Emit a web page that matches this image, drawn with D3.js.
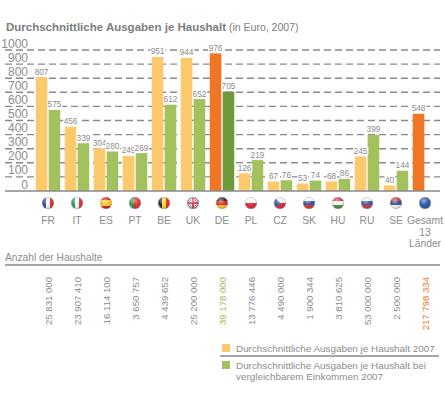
<!DOCTYPE html>
<html>
<head>
<meta charset="utf-8">
<script src="https://cdn.jsdelivr.net/npm/d3@7"></script>
<style>
  body { margin: 0; background: #fff; }
  text { font-family: "Liberation Sans", Arial, sans-serif; fill: #8c8c8c; }
</style>
</head>
<body>
<div id="chart"></div>
<script>
// data
var countries = ["FR", "IT", "ES", "PT", "BE", "UK", "DE", "PL", "CZ", "SK", "HU", "RU", "SE", "Gesamt"];
var spend = [807, 456, 304, 249, 951, 944, 976, 126, 67, 53, 68, 245, 40, 548];
var spendComparable = [575, 339, 280, 269, 612, 652, 705, 219, 76, 74, 86, 399, 144, null];
var households = ["25 831 000", "23 907 410", "16 114 100", "3 650 757", "4 439 652", "25 200 000",
                  "39 178 000", "13 776 446", "4 490 000", "1 900 344", "3 810 625", "53 000 000",
                  "2 500 000", "217 798 334"];
var yTicks = [0, 100, 200, 300, 400, 500, 600, 700, 800, 900, 1000];
var legendLabels = [["Durchschnittliche Ausgaben je Haushalt 2007"],
                    ["Durchschnittliche Ausgaben je Haushalt bei", "vergleichbarem Einkommen 2007"]];

// flag stripes (v = vertical, h = horizontal)
var flags = {
  FR: {dir: "v", c: ["#22408f", "#f4f4f4", "#e2261d"]},
  IT: {dir: "v", c: ["#0c9a48", "#f4f4f4", "#d12b35"]},
  ES: {dir: "h", c: ["#c8161d", "#f6c21c", "#f6c21c", "#c8161d"]},
  PT: {dir: "v", c: ["#1d8a3a", "#1d8a3a", "#d8231f", "#d8231f", "#d8231f"]},
  BE: {dir: "v", c: ["#1a1a1a", "#f7d219", "#e2261d"]},
  UK: {dir: "uk", c: ["#24357a", "#ffffff", "#cf1f2e"]},
  DE: {dir: "h", c: ["#1a1a1a", "#dd1f26", "#f6c21c"]},
  PL: {dir: "h", c: ["#f4f4f4", "#dc1f33"]},
  CZ: {dir: "cz", c: ["#f4f4f4", "#d6232c", "#1d4f9a"]},
  SK: {dir: "h", c: ["#f4f4f4", "#1f4fa0", "#e2261d"]},
  HU: {dir: "h", c: ["#d1283a", "#f4f4f4", "#3f8a3c"]},
  RU: {dir: "h", c: ["#f4f4f4", "#2a4fa5", "#d62a2c"]},
  SE: {dir: "h", c: ["#c8283a", "#2c4a8d", "#f4f4f4"]},
  Gesamt: {dir: "h", c: ["#1f4fa0"]}
};

var w = 445, h = 400;
var yellow = "#fcc96c", green = "#a3c15c", orange = "#f07526", darkGreen = "#6e9a3c";

var svg = d3.select("#chart").append("svg")
    .attr("width", w).attr("height", h)
    .style("background", "#fff");

var x = d3.scaleBand().domain(countries).range([33.5, 439.5]).paddingInner(0);
var xSub = d3.scaleBand().domain(["a", "b"]).range([2.25, 26.75]).paddingInner(0.1);
var y = d3.scaleLinear().domain([0, 1000]).range([191, 50]);
var cx = function(d) { return x(d) + x.bandwidth() / 2; };

// title
var title = svg.append("text").attr("x", 6).attr("y", 31)
    .style("font-size", "11.5px").style("fill", "#7d7d7d");
title.append("tspan").style("font-weight", "bold").text("Durchschnittliche Ausgaben je Haushalt");
title.append("tspan").style("font-size", "10.5px").text(" (in Euro, 2007)");

// grid
svg.append("g").selectAll("line")
    .data(yTicks.filter(function(d) { return d > 0; }))
    .join("line")
    .attr("x1", 5).attr("x2", 440)
    .attr("y1", function(d) { return y(d); }).attr("y2", function(d) { return y(d); })
    .attr("stroke", "#8a8a8a").attr("stroke-width", 1.4)
    .attr("stroke-dasharray", "7,4");

svg.append("g").selectAll("text")
    .data(yTicks)
    .join("text")
    .attr("x", 28).attr("y", function(d) { return y(d) - 2.5; })
    .attr("text-anchor", "end")
    .style("font-size", "12px")
    .text(function(d) { return d; });

// bars
var groups = svg.append("g").selectAll("g")
    .data(countries)
    .join("g")
    .attr("transform", function(d) { return "translate(" + x(d) + ",0)"; });

function barColor(c, s) {
  if (c === "DE") return s === "a" ? orange : darkGreen;
  if (c === "Gesamt") return orange;
  return s === "a" ? yellow : green;
}

groups.each(function(c, i) {
  var g = d3.select(this);
  var vals = [["a", spend[i]], ["b", spendComparable[i]]].filter(function(v) { return v[1] != null; });
  vals.forEach(function(v) {
    g.append("rect")
      .attr("x", xSub(v[0])).attr("width", xSub.bandwidth())
      .attr("y", y(v[1])).attr("height", y(0) - y(v[1]))
      .attr("fill", barColor(c, v[0]));
  });
  vals.forEach(function(v) {
    var t = g.append("text")
      .attr("x", xSub(v[0]) + xSub.bandwidth() / 2)
      .attr("y", y(v[1]) - 2.5)
      .attr("text-anchor", "middle")
      .style("font-size", "8.3px")
      .text(v[1]);
    var b = t.node().getBBox();
    g.insert("rect", function() { return t.node(); })
      .attr("x", b.x - 0.5).attr("y", b.y + 1).attr("width", b.width + 1).attr("height", b.height - 2)
      .attr("fill", "#fff");
  });
});

// baseline
svg.append("line").attr("x1", 5).attr("x2", 440).attr("y1", y(0)).attr("y2", y(0))
    .attr("stroke", "#8a8a8a").attr("stroke-width", 1.5);

// flags
var defs = svg.append("defs");
var grad = defs.append("radialGradient").attr("id", "gloss")
    .attr("cx", "40%").attr("cy", "30%").attr("r", "70%");
grad.append("stop").attr("offset", "0%").attr("stop-color", "#fff").attr("stop-opacity", 0.55);
grad.append("stop").attr("offset", "55%").attr("stop-color", "#fff").attr("stop-opacity", 0.05);
grad.append("stop").attr("offset", "100%").attr("stop-color", "#000").attr("stop-opacity", 0.25);

var r = 6, fy = 203;
countries.forEach(function(c, i) {
  defs.append("clipPath").attr("id", "clip" + i)
    .append("circle").attr("cx", 0).attr("cy", 0).attr("r", r);
  var g = svg.append("g").attr("transform", "translate(" + cx(c) + "," + fy + ")");
  var f = g.append("g").attr("clip-path", "url(#clip" + i + ")");
  var fl = flags[c];
  if (fl.dir === "v" || fl.dir === "h") {
    var n = fl.c.length, s = 2 * r / n;
    fl.c.forEach(function(col, k) {
      f.append("rect")
        .attr("x", fl.dir === "v" ? -r + k * s : -r).attr("y", fl.dir === "h" ? -r + k * s : -r)
        .attr("width", fl.dir === "v" ? s + 0.2 : 2 * r).attr("height", fl.dir === "h" ? s + 0.2 : 2 * r)
        .attr("fill", col);
    });
  } else if (fl.dir === "uk") {
    f.append("rect").attr("x", -r).attr("y", -r).attr("width", 2 * r).attr("height", 2 * r).attr("fill", fl.c[0]);
    [[-r, -r, r, r], [-r, r, r, -r]].forEach(function(l) {
      f.append("line").attr("x1", l[0]).attr("y1", l[1]).attr("x2", l[2]).attr("y2", l[3])
        .attr("stroke", fl.c[1]).attr("stroke-width", 2.4);
      f.append("line").attr("x1", l[0]).attr("y1", l[1]).attr("x2", l[2]).attr("y2", l[3])
        .attr("stroke", fl.c[2]).attr("stroke-width", 0.9);
    });
    f.append("rect").attr("x", -r).attr("y", -1.6).attr("width", 2 * r).attr("height", 3.2).attr("fill", fl.c[1]);
    f.append("rect").attr("x", -1.6).attr("y", -r).attr("width", 3.2).attr("height", 2 * r).attr("fill", fl.c[1]);
    f.append("rect").attr("x", -r).attr("y", -0.9).attr("width", 2 * r).attr("height", 1.8).attr("fill", fl.c[2]);
    f.append("rect").attr("x", -0.9).attr("y", -r).attr("width", 1.8).attr("height", 2 * r).attr("fill", fl.c[2]);
  } else if (fl.dir === "cz") {
    f.append("rect").attr("x", -r).attr("y", -r).attr("width", 2 * r).attr("height", r).attr("fill", fl.c[0]);
    f.append("rect").attr("x", -r).attr("y", 0).attr("width", 2 * r).attr("height", r).attr("fill", fl.c[1]);
    f.append("path").attr("d", "M" + (-r) + "," + (-r) + "L0.5,0L" + (-r) + "," + r + "Z").attr("fill", fl.c[2]);
  }
  g.append("circle").attr("r", r).attr("fill", "url(#gloss)");
  g.append("circle").attr("r", r - 0.3).attr("fill", "none").attr("stroke", "#bbb").attr("stroke-width", 0.5);
});

// country labels
svg.append("g").selectAll("text")
    .data(countries)
    .join("text")
    .attr("x", cx).attr("y", 224)
    .attr("text-anchor", "middle")
    .style("font-size", "10.3px")
    .each(function(d) {
      var t = d3.select(this);
      if (d === "Gesamt") {
        ["Gesamt", "13", "Länder"].forEach(function(s, k) {
          t.append("tspan").attr("x", cx(d)).attr("dy", k === 0 ? 0 : 11.5).text(s);
        });
      } else {
        t.text(d);
      }
    });

// households
svg.append("text").attr("x", 5).attr("y", 261).style("font-size", "10.2px").text("Anzahl der Haushalte");
svg.append("line").attr("x1", 5).attr("x2", 440).attr("y1", 265).attr("y2", 265)
    .attr("stroke", "#8a8a8a").attr("stroke-width", 1.5);

svg.append("g").selectAll("text")
    .data(countries)
    .join("text")
    .attr("transform", function(d) { return "translate(" + (cx(d) + 3.5) + ",277) rotate(-90)"; })
    .attr("text-anchor", "end")
    .style("font-size", "9.6px")
    .style("fill", function(d) { return d === "DE" ? "#9cbd55" : d === "Gesamt" ? "#f07a2a" : "#8c8c8c"; })
    .text(function(d, i) { return households[i]; });

// legend
var legend = svg.append("g");
legend.append("rect").attr("x", 222).attr("y", 344).attr("width", 8).attr("height", 8).attr("fill", yellow);
legend.append("rect").attr("x", 222).attr("y", 361).attr("width", 8).attr("height", 8).attr("fill", green);
legend.append("line").attr("x1", 220).attr("x2", 439).attr("y1", 356).attr("y2", 356)
    .attr("stroke", "#8a8a8a").attr("stroke-width", 1.5);
[351.5, 368.5].forEach(function(yy, k) {
  var t = legend.append("text").attr("x", 236).attr("y", yy).style("font-size", "9.9px");
  legendLabels[k].forEach(function(s, j) {
    t.append("tspan").attr("x", 236).attr("dy", j === 0 ? 0 : 11).text(s);
  });
});
</script>
</body>
</html>
